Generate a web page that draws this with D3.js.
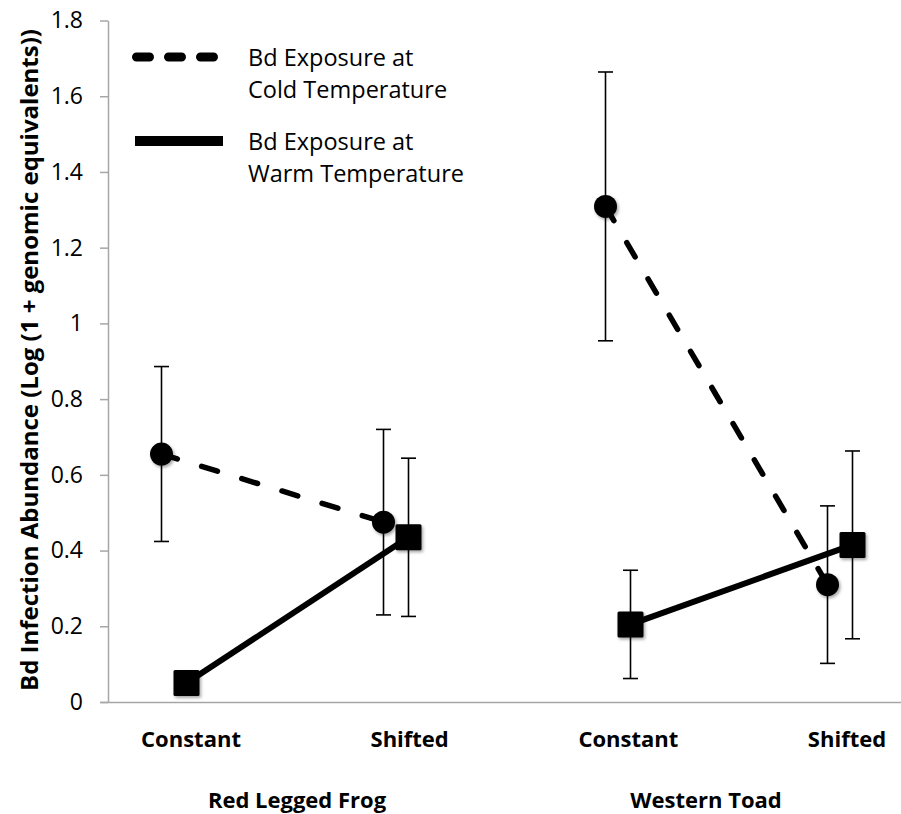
<!DOCTYPE html>
<html>
<head>
<meta charset="utf-8">
<script src="https://cdn.jsdelivr.net/npm/d3@7"></script>
<style>
  body { margin: 0; background: #fff; }
  svg text { font-family: "Open Sans", Lato, sans-serif; fill: #000; }
</style>
</head>
<body>
<div id="chart"></div>
<script>
// Data
var species = ["Red Legged Frog", "Western Toad"];
var treatments = ["Constant", "Shifted"];
var categories = ["RLF Constant", "RLF Shifted", "WT Constant", "WT Shifted"];
var coldMean = [0.655, 0.475, 1.309, 0.310];
var coldErr  = [0.231, 0.245, 0.355, 0.208];
var warmMean = [0.050, 0.435, 0.205, 0.415];
var warmErr  = [0.020, 0.209, 0.143, 0.248];
var yTicks = [0, 0.2, 0.4, 0.6, 0.8, 1, 1.2, 1.4, 1.6, 1.8];
var yTickLabels = ["0", "0.2", "0.4", "0.6", "0.8", "1", "1.2", "1.4", "1.6", "1.8"];
var legendLabels = [["Bd Exposure at", "Cold Temperature"], ["Bd Exposure at", "Warm Temperature"]];

// Chart parameters
var svgWidth = 901;
var svgHeight = 814;

var svg = d3.select("#chart")
  .append("svg")
  .attr("width", svgWidth)
  .attr("height", svgHeight);

var defs = svg.append("defs");
var shadow = defs.append("filter")
  .attr("id", "shadow")
  .attr("x", "-50%").attr("y", "-50%")
  .attr("width", "200%").attr("height", "200%");
shadow.append("feDropShadow")
  .attr("dx", 1.5).attr("dy", 2)
  .attr("stdDeviation", 1.8)
  .attr("flood-color", "#000")
  .attr("flood-opacity", 0.35);

// Scales
var yScale = d3.scaleLinear()
  .domain([0, 1.8])
  .range([702, 20.5]);

var xScale = d3.scalePoint()
  .domain(categories)
  .range([174, 840]);

var labelScale = d3.scalePoint()
  .domain(categories)
  .range([191, 847]);

var groupScale = d3.scalePoint()
  .domain(species)
  .range([297, 706]);

var baseScale = d3.scaleLinear()
  .domain([0, 1])
  .range([100, 901]);

var offset = 12.5;

// Axes
var leftAxis = d3.axisLeft(yScale)
  .tickValues(yTicks)
  .tickFormat(function(d, i) { return yTickLabels[i]; })
  .tickSize(8)
  .tickSizeOuter(0)
  .tickPadding(17);

var yAxisG = svg.append("g")
  .attr("transform", "translate(108, 0)")
  .call(leftAxis);
yAxisG.select(".domain").attr("stroke", "#a6a6a6").attr("stroke-width", 1.5);
yAxisG.selectAll(".tick line").attr("stroke", "#a6a6a6").attr("stroke-width", 1.5);
yAxisG.selectAll(".tick text")
  .style("font-family", "'Open Sans', sans-serif")
  .style("font-size", "23px")
  .attr("fill", "#000");

var bottomAxis = d3.axisBottom(baseScale)
  .tickValues([])
  .tickSizeOuter(0);

var xAxisG = svg.append("g")
  .attr("transform", "translate(0, 702)")
  .call(bottomAxis);
xAxisG.select(".domain").attr("stroke", "#a6a6a6").attr("stroke-width", 1.5);

// Category labels
svg.append("g")
  .selectAll("text")
  .data(categories)
  .enter()
  .append("text")
  .attr("x", d => labelScale(d))
  .attr("y", 747)
  .attr("text-anchor", "middle")
  .style("font-size", "22px")
  .style("font-weight", "bold")
  .text((d, i) => treatments[i % 2]);

svg.append("g")
  .selectAll("text")
  .data(species)
  .enter()
  .append("text")
  .attr("x", d => groupScale(d))
  .attr("y", 808)
  .attr("text-anchor", "middle")
  .style("font-size", "22px")
  .style("font-weight", "bold")
  .text(d => d);

// Y axis title
svg.append("text")
  .attr("transform", "translate(38, 360) rotate(-90)")
  .attr("text-anchor", "middle")
  .style("font-size", "24px")
  .style("font-weight", "bold")
  .text("Bd Infection Abundance (Log (1 + genomic equivalents))");

// Lines (one segment per species)
var line = d3.line()
  .x(d => d.x)
  .y(d => d.y);

function seriesPoints(means, dx) {
  return species.map(function(s, j) {
    return [0, 1].map(function(k) {
      var i = j * 2 + k;
      return { x: xScale(categories[i]) + dx, y: yScale(means[i]) };
    });
  });
}

svg.append("g")
  .selectAll("path")
  .data(seriesPoints(coldMean, -offset))
  .enter()
  .append("path")
  .attr("d", line)
  .attr("fill", "none")
  .attr("stroke", "#000")
  .attr("stroke-width", 5.5)
  .attr("stroke-linecap", "round")
  .attr("stroke-dasharray", "16.5 25.5");

svg.append("g")
  .selectAll("path")
  .data(seriesPoints(warmMean, offset))
  .enter()
  .append("path")
  .attr("d", line)
  .attr("fill", "none")
  .attr("stroke", "#000")
  .attr("stroke-width", 6);

// Error bars
function errorBars(means, errs, dx) {
  var g = svg.append("g").attr("stroke", "#000").attr("stroke-width", 1.6);
  categories.forEach(function(c, i) {
    var cx = xScale(c) + dx;
    var top = yScale(means[i] + errs[i]);
    var bottom = yScale(means[i] - errs[i]);
    g.append("line").attr("x1", cx).attr("x2", cx).attr("y1", top).attr("y2", bottom);
    g.append("line").attr("x1", cx - 7.5).attr("x2", cx + 7.5).attr("y1", top).attr("y2", top);
    g.append("line").attr("x1", cx - 7.5).attr("x2", cx + 7.5).attr("y1", bottom).attr("y2", bottom);
  });
}

errorBars(coldMean, coldErr, -offset);

// Cold markers
svg.append("g")
  .selectAll("circle")
  .data(categories)
  .enter()
  .append("circle")
  .attr("cx", d => xScale(d) - offset)
  .attr("cy", (d, i) => yScale(coldMean[i]))
  .attr("r", 11.5)
  .attr("fill", "#000")
  .attr("filter", "url(#shadow)");

errorBars(warmMean, warmErr, offset);

// Warm markers
var sq = 26;
svg.append("g")
  .selectAll("rect")
  .data(categories)
  .enter()
  .append("rect")
  .attr("x", d => xScale(d) + offset - sq / 2)
  .attr("y", (d, i) => yScale(warmMean[i]) - sq / 2)
  .attr("width", sq)
  .attr("height", sq)
  .attr("rx", 1.5)
  .attr("fill", "#000")
  .attr("filter", "url(#shadow)");

// Legend
var legend = svg.append("g");

legend.append("line")
  .attr("x1", 136.5).attr("x2", 216)
  .attr("y1", 57).attr("y2", 57)
  .attr("stroke", "#000")
  .attr("stroke-width", 9)
  .attr("stroke-linecap", "round")
  .attr("stroke-dasharray", "13 19");

legend.append("line")
  .attr("x1", 135).attr("x2", 223)
  .attr("y1", 141).attr("y2", 141)
  .attr("stroke", "#000")
  .attr("stroke-width", 10);

var legendY = [66, 150];
legendLabels.forEach(function(lines, i) {
  var t = legend.append("text")
    .attr("x", 248)
    .attr("y", legendY[i])
    .style("font-size", "23.5px");
  lines.forEach(function(l, k) {
    t.append("tspan")
      .attr("x", 248)
      .attr("dy", k === 0 ? 0 : 32)
      .text(l);
  });
});
</script>
</body>
</html>
